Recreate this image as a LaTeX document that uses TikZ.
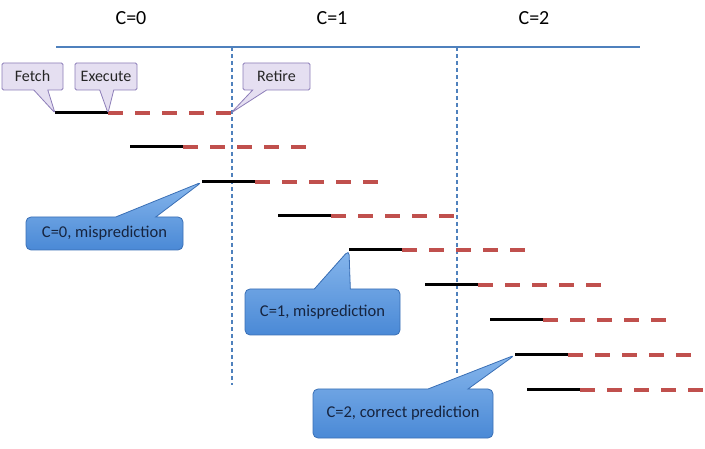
\documentclass[tikz,border=0pt]{standalone}
\usepackage{fontspec}
\setmainfont{Carlito}
\usepackage{tikz}
\usetikzlibrary{calc,shapes.callouts}
\definecolor{pipe-red}{HTML}{C0504D}
\definecolor{pipe-blue}{HTML}{4F81BD}
\definecolor{tag-fill}{HTML}{E5DFF1}
\definecolor{tag-border}{HTML}{8C7DB8}
\definecolor{pred-top}{HTML}{86B6EC}
\definecolor{pred-bottom}{HTML}{4A89D6}
\definecolor{pred-border}{HTML}{3A6FB5}
\definecolor{pred-text}{HTML}{16243F}

\begin{document}
\begin{tikzpicture}[x=1pt, y=-1pt,
    fetchline/.style={line width=3pt, black},
    retireline/.style={line width=3.2pt, pipe-red, dash pattern=on 15pt off 12pt},
    cycleline/.style={line width=1.2pt, pipe-blue, dash pattern=on 4pt off 3pt},
    stagetag/.style={rectangle callout, draw=tag-border, fill=tag-fill, line width=0.8pt,
        rounded corners=1.5pt, minimum height=27pt, inner sep=0pt,
        font=\fontsize{16}{18}\selectfont, text=black!85},
    predtag/.style={rectangle callout, draw=pred-border, top color=pred-top, bottom color=pred-bottom,
        line width=0.8pt, rounded corners=5pt, inner sep=0pt,
        font=\fontsize{16.5}{18}\selectfont, text=pred-text}]
    \useasboundingbox (0,0) rectangle (705,449);

    % clock cycles
    \node (c0) at (131,18) {\fontsize{20}{22}\selectfont C=0};
    \node (c1) at (332,18) {\fontsize{20}{22}\selectfont C=1};
    \node (c2) at (534,18) {\fontsize{20}{22}\selectfont C=2};
    \coordinate (axl) at (56,47);
    \coordinate (axr) at (640,47);
    \coordinate (t1) at (232,47);
    \coordinate (t2) at (457,47);
    \coordinate (b1) at (232,385);
    \coordinate (b2) at (457,374);
    \draw[line width=1.5pt, pipe-blue] (axl) -- (axr);
    \draw[cycleline] (t1) -- (b1);
    \draw[cycleline] (t2) -- (b2);

    % instructions: fetch, execute, retire
    \foreach \i/\xf/\yy in {1/55/113, 2/130/147, 3/202/182, 4/278/216, 5/349/250,
                            6/425/285, 7/490/320, 8/515/355, 9/527/390} {
        \coordinate (f\i) at (\xf,\yy);
        \coordinate (e\i) at (\xf+53,\yy);
        \coordinate (r\i) at (\xf+176,\yy);
        \draw[retireline] (e\i) -- (r\i);
        \draw[fetchline] (f\i) -- (e\i);
    }

    % labels
    \node[stagetag, minimum width=61pt, callout pointer width=14pt,
        callout absolute pointer={(f1)}] (fetch) at (32.5,76.5) {Fetch};
    \node[stagetag, minimum width=62pt, callout pointer width=14pt,
        callout absolute pointer={(e1)}] (exec) at (106,76.5) {Execute};
    \node[stagetag, minimum width=67pt, callout pointer width=14pt,
        callout absolute pointer={(r1)}] (retire) at (276.5,76.5) {Retire};

    \node[predtag, minimum width=157pt, minimum height=33pt, callout pointer width=40pt,
        callout absolute pointer={(f3)}] (mp0) at (104.5,233.5) {C=0, misprediction};
    \node[predtag, minimum width=155pt, minimum height=46pt, callout pointer width=36pt,
        callout absolute pointer={(f5)}] (mp1) at (322.5,312) {C=1, misprediction};
    \node[predtag, minimum width=180pt, minimum height=49pt, callout pointer width=40pt,
        callout absolute pointer={(f8)}] (cp2) at (403,413.5) {C=2, correct prediction};
\end{tikzpicture}
\end{document}
